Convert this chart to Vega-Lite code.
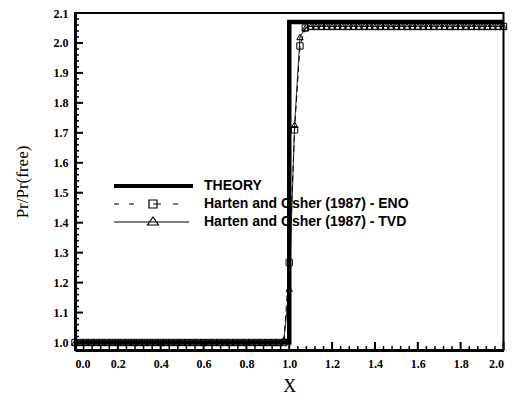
{
  "$schema": "https://vega.github.io/schema/vega-lite/v6.json",
  "width": 428.5,
  "height": 337,
  "autosize": {"type": "none"},
  "padding": {"left": 75, "top": 13, "right": 10, "bottom": 49},
  "background": "white",
  "config": {
    "view": {"stroke": "black", "strokeWidth": 2},
    "axis": {
      "grid": false,
      "labelFont": "Liberation Serif",
      "labelFontWeight": "bold",
      "labelFontSize": 12,
      "labelColor": "black",
      "titleFont": "Liberation Serif",
      "titleFontWeight": "normal",
      "titleColor": "black",
      "domainColor": "black"
    }
  },
  "datasets": {
    "theory": [
      {"x": 0, "y": 1.0},
      {"x": 1.0, "y": 1.0},
      {"x": 1.0, "y": 2.07},
      {"x": 2.0, "y": 2.07}
    ],
    "names": [
      {"key": "eno", "series": "Harten and Osher (1987) - ENO"},
      {"key": "tvd", "series": "Harten and Osher (1987) - TVD"}
    ],
    "xMajor": [{"v": 0}, {"v": 0.2}, {"v": 0.4}, {"v": 0.6}, {"v": 0.8}, {"v": 1.0}, {"v": 1.2}, {"v": 1.4}, {"v": 1.6}, {"v": 1.8}, {"v": 2.0}],
    "xMinor": [{"v": 0.04}, {"v": 0.08}, {"v": 0.12}, {"v": 0.16}, {"v": 0.24}, {"v": 0.28}, {"v": 0.32}, {"v": 0.36}, {"v": 0.44}, {"v": 0.48}, {"v": 0.52}, {"v": 0.56}, {"v": 0.64}, {"v": 0.68}, {"v": 0.72}, {"v": 0.76}, {"v": 0.84}, {"v": 0.88}, {"v": 0.92}, {"v": 0.96}, {"v": 1.04}, {"v": 1.08}, {"v": 1.12}, {"v": 1.16}, {"v": 1.24}, {"v": 1.28}, {"v": 1.32}, {"v": 1.36}, {"v": 1.44}, {"v": 1.48}, {"v": 1.52}, {"v": 1.56}, {"v": 1.64}, {"v": 1.68}, {"v": 1.72}, {"v": 1.76}, {"v": 1.84}, {"v": 1.88}, {"v": 1.92}, {"v": 1.96}],
    "yMajor": [{"v": 1.0}, {"v": 1.1}, {"v": 1.2}, {"v": 1.3}, {"v": 1.4}, {"v": 1.5}, {"v": 1.6}, {"v": 1.7}, {"v": 1.8}, {"v": 1.9}, {"v": 2.0}, {"v": 2.1}],
    "yMinor": [{"v": 1.02}, {"v": 1.04}, {"v": 1.06}, {"v": 1.08}, {"v": 1.12}, {"v": 1.14}, {"v": 1.16}, {"v": 1.18}, {"v": 1.22}, {"v": 1.24}, {"v": 1.26}, {"v": 1.28}, {"v": 1.32}, {"v": 1.34}, {"v": 1.36}, {"v": 1.38}, {"v": 1.42}, {"v": 1.44}, {"v": 1.46}, {"v": 1.48}, {"v": 1.52}, {"v": 1.54}, {"v": 1.56}, {"v": 1.58}, {"v": 1.62}, {"v": 1.64}, {"v": 1.66}, {"v": 1.68}, {"v": 1.72}, {"v": 1.74}, {"v": 1.76}, {"v": 1.78}, {"v": 1.82}, {"v": 1.84}, {"v": 1.86}, {"v": 1.88}, {"v": 1.92}, {"v": 1.94}, {"v": 1.96}, {"v": 1.98}, {"v": 2.02}, {"v": 2.04}, {"v": 2.06}, {"v": 2.08}],
    "numerical": [
      {"x": 0, "eno": 1.0, "tvd": 1.0},
      {"x": 0.025, "eno": 1.0, "tvd": 1.0},
      {"x": 0.05, "eno": 1.0, "tvd": 1.0},
      {"x": 0.075, "eno": 1.0, "tvd": 1.0},
      {"x": 0.1, "eno": 1.0, "tvd": 1.0},
      {"x": 0.125, "eno": 1.0, "tvd": 1.0},
      {"x": 0.15, "eno": 1.0, "tvd": 1.0},
      {"x": 0.175, "eno": 1.0, "tvd": 1.0},
      {"x": 0.2, "eno": 1.0, "tvd": 1.0},
      {"x": 0.225, "eno": 1.0, "tvd": 1.0},
      {"x": 0.25, "eno": 1.0, "tvd": 1.0},
      {"x": 0.275, "eno": 1.0, "tvd": 1.0},
      {"x": 0.3, "eno": 1.0, "tvd": 1.0},
      {"x": 0.325, "eno": 1.0, "tvd": 1.0},
      {"x": 0.35, "eno": 1.0, "tvd": 1.0},
      {"x": 0.375, "eno": 1.0, "tvd": 1.0},
      {"x": 0.4, "eno": 1.0, "tvd": 1.0},
      {"x": 0.425, "eno": 1.0, "tvd": 1.0},
      {"x": 0.45, "eno": 1.0, "tvd": 1.0},
      {"x": 0.475, "eno": 1.0, "tvd": 1.0},
      {"x": 0.5, "eno": 1.0, "tvd": 1.0},
      {"x": 0.525, "eno": 1.0, "tvd": 1.0},
      {"x": 0.55, "eno": 1.0, "tvd": 1.0},
      {"x": 0.575, "eno": 1.0, "tvd": 1.0},
      {"x": 0.6, "eno": 1.0, "tvd": 1.0},
      {"x": 0.625, "eno": 1.0, "tvd": 1.0},
      {"x": 0.65, "eno": 1.0, "tvd": 1.0},
      {"x": 0.675, "eno": 1.0, "tvd": 1.0},
      {"x": 0.7, "eno": 1.0, "tvd": 1.0},
      {"x": 0.725, "eno": 1.0, "tvd": 1.0},
      {"x": 0.75, "eno": 1.0, "tvd": 1.0},
      {"x": 0.775, "eno": 1.0, "tvd": 1.0},
      {"x": 0.8, "eno": 1.0, "tvd": 1.0},
      {"x": 0.825, "eno": 1.0, "tvd": 1.0},
      {"x": 0.85, "eno": 1.0, "tvd": 1.0},
      {"x": 0.875, "eno": 1.0, "tvd": 1.0},
      {"x": 0.9, "eno": 1.0, "tvd": 1.0},
      {"x": 0.925, "eno": 1.0, "tvd": 1.0},
      {"x": 0.95, "eno": 1.0, "tvd": 1.0},
      {"x": 0.975, "eno": 1.0, "tvd": 1.01},
      {"x": 1.0, "eno": 1.267, "tvd": 1.18},
      {"x": 1.025, "eno": 1.71, "tvd": 1.727},
      {"x": 1.05, "eno": 1.99, "tvd": 2.02},
      {"x": 1.075, "eno": 2.05, "tvd": 2.05},
      {"x": 1.1, "eno": 2.055, "tvd": 2.055},
      {"x": 1.125, "eno": 2.055, "tvd": 2.055},
      {"x": 1.15, "eno": 2.055, "tvd": 2.055},
      {"x": 1.175, "eno": 2.055, "tvd": 2.055},
      {"x": 1.2, "eno": 2.055, "tvd": 2.055},
      {"x": 1.225, "eno": 2.055, "tvd": 2.055},
      {"x": 1.25, "eno": 2.055, "tvd": 2.055},
      {"x": 1.275, "eno": 2.055, "tvd": 2.055},
      {"x": 1.3, "eno": 2.055, "tvd": 2.055},
      {"x": 1.325, "eno": 2.055, "tvd": 2.055},
      {"x": 1.35, "eno": 2.055, "tvd": 2.055},
      {"x": 1.375, "eno": 2.055, "tvd": 2.055},
      {"x": 1.4, "eno": 2.055, "tvd": 2.055},
      {"x": 1.425, "eno": 2.055, "tvd": 2.055},
      {"x": 1.45, "eno": 2.055, "tvd": 2.055},
      {"x": 1.475, "eno": 2.055, "tvd": 2.055},
      {"x": 1.5, "eno": 2.055, "tvd": 2.055},
      {"x": 1.525, "eno": 2.055, "tvd": 2.055},
      {"x": 1.55, "eno": 2.055, "tvd": 2.055},
      {"x": 1.575, "eno": 2.055, "tvd": 2.055},
      {"x": 1.6, "eno": 2.055, "tvd": 2.055},
      {"x": 1.625, "eno": 2.055, "tvd": 2.055},
      {"x": 1.65, "eno": 2.055, "tvd": 2.055},
      {"x": 1.675, "eno": 2.055, "tvd": 2.055},
      {"x": 1.7, "eno": 2.055, "tvd": 2.055},
      {"x": 1.725, "eno": 2.055, "tvd": 2.055},
      {"x": 1.75, "eno": 2.055, "tvd": 2.055},
      {"x": 1.775, "eno": 2.055, "tvd": 2.055},
      {"x": 1.8, "eno": 2.055, "tvd": 2.055},
      {"x": 1.825, "eno": 2.055, "tvd": 2.055},
      {"x": 1.85, "eno": 2.055, "tvd": 2.055},
      {"x": 1.875, "eno": 2.055, "tvd": 2.055},
      {"x": 1.9, "eno": 2.055, "tvd": 2.055},
      {"x": 1.925, "eno": 2.055, "tvd": 2.055},
      {"x": 1.95, "eno": 2.055, "tvd": 2.055},
      {"x": 1.975, "eno": 2.055, "tvd": 2.055},
      {"x": 2.0, "eno": 2.055, "tvd": 2.055}
    ]
  },
  "layer": [
    {
      "data": {"name": "theory"},
      "mark": {"type": "line", "strokeWidth": 4.5, "color": "black"},
      "encoding": {
        "x": {
          "field": "x", "type": "quantitative",
          "scale": {"domain": [0, 2], "nice": false, "zero": false},
          "axis": {
            "orient": "bottom",
            "values": [0, 0.2, 0.4, 0.6, 0.8, 1.0, 1.2, 1.4, 1.6, 1.8, 2.0],
            "format": ".1f",
            "ticks": false, "domainWidth": 3,
            "labelPadding": 8,
            "title": "X", "titleFontSize": 18, "titlePadding": 8
          }
        },
        "y": {
          "field": "y", "type": "quantitative",
          "scale": {"domain": [0.975, 2.1], "nice": false, "zero": false},
          "axis": {
            "orient": "left",
            "values": [1.0, 1.1, 1.2, 1.3, 1.4, 1.5, 1.6, 1.7, 1.8, 1.9, 2.0, 2.1],
            "format": ".1f",
            "ticks": false, "domainWidth": 3,
            "labelPadding": 7,
            "title": "Pr/Pr(free)", "titleFontSize": 17, "titlePadding": 22
          }
        },
        "color": {
          "datum": "THEORY", "type": "nominal",
          "scale": {
            "domain": ["THEORY", "Harten and Osher (1987) - ENO", "Harten and Osher (1987) - TVD"],
            "range": ["black", "black", "black"]
          },
          "legend": {
            "title": null,
            "orient": "none",
            "legendX": 37,
            "legendY": 166,
            "padding": 0,
            "symbolSize": 100,
            "rowPadding": 3,
            "labelOffset": 78,
            "labelFont": "Liberation Sans",
            "labelFontWeight": "bold",
            "labelFontSize": 14,
            "labelColor": "black",
            "labelLimit": 400,
            "encode": {
              "symbols": {
                "update": {
                  "shape": {"signal": "datum.value === 'THEORY' ? 'M-1,0H14.8' : (datum.value === 'Harten and Osher (1987) - ENO' ? 'M-1,0H0M2,0H3M6,-0.8H7.6V0.8H6ZM6.8,0H8.4M10.8,0H11.8' : 'M-1,0H14M6.8,-1L7.9,0.6H5.7Z')"},
                  "strokeWidth": {"signal": "datum.value === 'THEORY' ? 4 : 1.2"},
                  "stroke": {"value": "black"},
                  "fill": {"value": "transparent"},
                  "strokeDash": {"value": []}
                }
              }
            }
          }
        }
      }
    },
    {
      "data": {"name": "numerical"},
      "transform": [
        {"fold": ["eno", "tvd"], "as": ["key", "y"]},
        {"lookup": "key", "from": {"data": {"name": "names"}, "key": "key", "fields": ["series"]}}
      ],
      "mark": {"type": "line", "strokeWidth": 1, "color": "black"},
      "encoding": {
        "x": {"field": "x", "type": "quantitative", "axis": null},
        "y": {"field": "y", "type": "quantitative", "axis": null},
        "detail": {"field": "series"},
        "strokeDash": {
          "field": "series", "type": "nominal",
          "scale": {
            "domain": ["Harten and Osher (1987) - ENO", "Harten and Osher (1987) - TVD"],
            "range": [[6, 4], [1, 0]]
          },
          "legend": null
        }
      }
    },
    {
      "data": {"name": "numerical"},
      "transform": [
        {"fold": ["eno", "tvd"], "as": ["key", "y"]},
        {"lookup": "key", "from": {"data": {"name": "names"}, "key": "key", "fields": ["series"]}}
      ],
      "mark": {"type": "point", "filled": false, "color": "black", "strokeWidth": 1, "size": 40, "opacity": 1},
      "encoding": {
        "x": {"field": "x", "type": "quantitative", "axis": null},
        "y": {"field": "y", "type": "quantitative", "axis": null},
        "shape": {
          "field": "series", "type": "nominal",
          "scale": {
            "domain": ["Harten and Osher (1987) - ENO", "Harten and Osher (1987) - TVD"],
            "range": ["square", "triangle-up"]
          },
          "legend": null
        }
      }
    },
    {
      "data": {"name": "xMajor"},
      "mark": {"type": "rule", "strokeWidth": 2, "color": "black", "opacity": 1},
      "encoding": {
        "x": {"field": "v", "type": "quantitative", "axis": null},
        "y": {"datum": 0.975, "type": "quantitative", "axis": null},
        "y2": {"datum": 1.0017}
      }
    },
    {
      "data": {"name": "xMinor"},
      "mark": {"type": "rule", "strokeWidth": 1.5, "color": "black", "opacity": 1},
      "encoding": {
        "x": {"field": "v", "type": "quantitative", "axis": null},
        "y": {"datum": 0.975, "type": "quantitative", "axis": null},
        "y2": {"datum": 0.9884}
      }
    },
    {
      "data": {"name": "yMajor"},
      "mark": {"type": "rule", "strokeWidth": 2, "color": "black", "opacity": 1},
      "encoding": {
        "y": {"field": "v", "type": "quantitative", "axis": null},
        "x": {"datum": 0, "type": "quantitative", "axis": null},
        "x2": {"datum": 0.0373}
      }
    },
    {
      "data": {"name": "yMinor"},
      "mark": {"type": "rule", "strokeWidth": 1.5, "color": "black", "opacity": 1},
      "encoding": {
        "y": {"field": "v", "type": "quantitative", "axis": null},
        "x": {"datum": 0, "type": "quantitative", "axis": null},
        "x2": {"datum": 0.0187}
      }
    }
  ],
  "resolve": {"axis": {"x": "independent", "y": "independent"}}
}
